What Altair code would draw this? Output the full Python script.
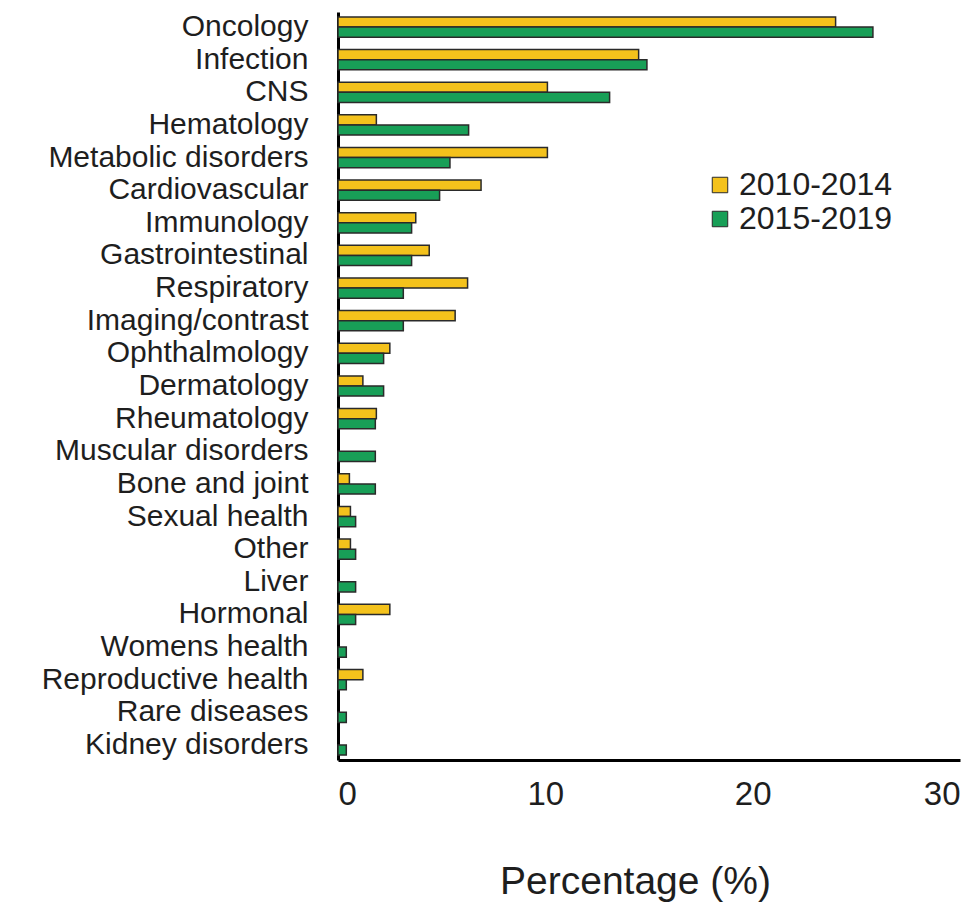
import altair as alt
import pandas as pd

categories = ["Oncology", "Infection", "CNS", "Hematology", "Metabolic disorders",
              "Cardiovascular", "Immunology", "Gastrointestinal", "Respiratory",
              "Imaging/contrast", "Ophthalmology", "Dermatology", "Rheumatology",
              "Muscular disorders", "Bone and joint", "Sexual health", "Other", "Liver",
              "Hormonal", "Womens health", "Reproductive health", "Rare diseases",
              "Kidney disorders"]
v_2010_2014 = [24.0, 14.5, 10.1, 1.85, 10.1, 6.9, 3.75, 4.4, 6.25, 5.65, 2.5, 1.2, 1.85,
               0, 0.55, 0.6, 0.6, 0, 2.5, 0, 1.2, 0, 0]
v_2015_2019 = [25.8, 14.9, 13.1, 6.3, 5.4, 4.9, 3.55, 3.55, 3.15, 3.15, 2.2, 2.2, 1.8,
               1.8, 1.8, 0.85, 0.85, 0.85, 0.85, 0.4, 0.4, 0.4, 0.4]
periods = ["2010-2014", "2015-2019"]
colors = ["#F4C21C", "#189F57"]

rows = []
for c, a, b in zip(categories, v_2010_2014, v_2015_2019):
    for p, v in zip(periods, (a, b)):
        if v > 0:
            rows.append({"category": c, "period": p, "value": v})
df = pd.DataFrame(rows)

FONT = "Liberation Sans"
TXT = "#1e1e1e"

chart = alt.Chart(df).mark_bar(stroke="#2a2a2a", strokeWidth=1.5).encode(
    y=alt.Y("category:N", sort=categories,
            scale=alt.Scale(paddingInner=0.38, paddingOuter=0.15),
            axis=alt.Axis(title=None, ticks=False, labelFontSize=30, labelPadding=30,
                          labelColor=TXT, labelFont=FONT, domainColor="#000000",
                          domainWidth=3, labelLimit=400)),
    yOffset=alt.YOffset("period:N", sort=periods, scale=alt.Scale(paddingInner=0)),
    x=alt.X("value:Q",
            scale=alt.Scale(domain=[0, 30], nice=False),
            axis=alt.Axis(title="Percentage (%)", values=[0, 10, 20, 30], ticks=False,
                          grid=False, labelFontSize=33, labelPadding=18,
                          labelColor=TXT, labelFont=FONT,
                          domainColor="#000000", domainWidth=3,
                          titleFontSize=39, titleFontWeight="normal", titleFont=FONT,
                          titleColor=TXT, titlePadding=51,
                          titleX=297, titleAnchor="start", titleAlign="center")),
    color=alt.Color("period:N", sort=periods,
                    scale=alt.Scale(domain=periods, range=colors),
                    legend=alt.Legend(title=None, orient="none", legendX=366, legendY=157,
                                      symbolType="square", symbolSize=240,
                                      symbolStrokeColor="#2a2a2a", symbolStrokeWidth=1,
                                      labelFontSize=32, labelFont=FONT,
                                      labelColor=TXT, rowPadding=2,
                                      labelOffset=3)),
).properties(
    width=622, height=748,
    autosize=alt.AutoSizeParams(type="none"),
    padding={"left": 330, "top": 4, "right": 10, "bottom": 153},
).configure_view(stroke=None)

chart.save("out.html", embed_options={"renderer": "svg", "actions": False})
